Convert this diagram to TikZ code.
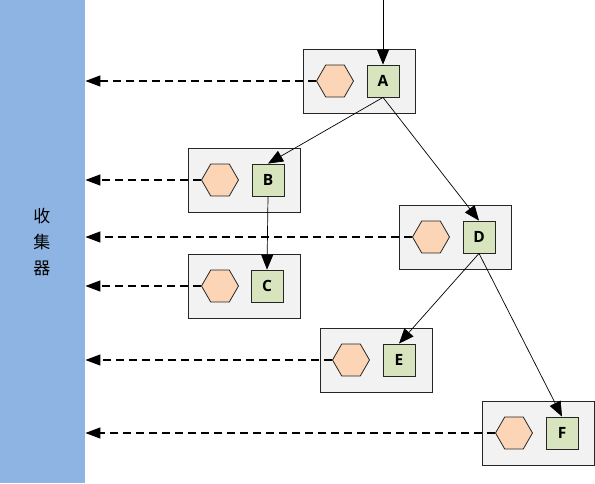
\documentclass[tikz,border=0pt]{standalone}
\usepackage{fontspec}
\setmainfont{Open Sans}
\newfontfamily\cjk{Noto Sans CJK SC}
\usetikzlibrary{shapes.geometric,arrows.meta}
\definecolor{collblue}{HTML}{8EB4E3}
\definecolor{boxgray}{HTML}{F2F2F2}
\definecolor{hexpeach}{HTML}{FBD5B5}
\definecolor{sqgreen}{HTML}{D7E4BD}
\tikzset{
  spanbox/.style={draw=black!85, fill=boxgray, line width=0.8pt, minimum width=112pt, minimum height=64pt, inner sep=0pt},
  hexnode/.style={regular polygon, regular polygon sides=6, draw=black!85, fill=hexpeach, line width=0.8pt, minimum size=37pt, inner sep=0pt},
  sqnode/.style={draw=black!85, fill=sqgreen, line width=0.8pt, minimum size=32pt, inner sep=0pt, font=\bfseries\fontsize{15.5}{15.5}\selectfont},
  callarrow/.style={line width=0.7pt, -{Triangle[length=15pt,width=12pt]}},
  reportarrow/.style={line width=1.2pt, dash pattern=on 8pt off 5pt, -{Triangle[length=15pt,width=11pt]}}
}
\begin{document}
\begin{tikzpicture}[x=1pt,y=-1pt]
\useasboundingbox (0,0) rectangle (595,483);
\node[fill=collblue, minimum width=85pt, minimum height=483pt, inner sep=0pt, anchor=north west] (coll) at (0,0) {};
\node[font=\cjk\fontsize{17}{26}\selectfont, align=center] (colltxt) at (42,242) {收\\集\\器};
% boxes
\node[spanbox] (bA) at (359.5,81) {};
\node[spanbox] (bB) at (244,180) {};
\node[spanbox] (bC) at (244,286) {};
\node[spanbox] (bD) at (455.5,237) {};
\node[spanbox] (bE) at (376,360) {};
\node[spanbox] (bF) at (538.5,433.5) {};
% hexagons
\node[hexnode] (hA) at (335,81) {};
\node[hexnode] (hB) at (220,180) {};
\node[hexnode] (hC) at (220,286) {};
\node[hexnode] (hD) at (431,237) {};
\node[hexnode] (hE) at (351,360) {};
\node[hexnode] (hF) at (514,433) {};
% squares
\node[sqnode] (A) at (383,81) {A};
\node[sqnode] (B) at (268,180) {B};
\node[sqnode] (C) at (267,286) {C};
\node[sqnode] (D) at (479,237) {D};
\node[sqnode] (E) at (399,360) {E};
\node[sqnode] (F) at (562,433) {F};
% incoming
\coordinate (top) at (383,0);
\draw[callarrow] (top) -- (A.north);
\draw[callarrow] (A.south) -- (B.north);
\draw[callarrow] (A.south) -- (D.north);
\draw[callarrow] (B.south) -- (C.north);
\draw[callarrow] (D.south) -- (E.north);
\draw[callarrow] (D.south) -- (F.north);
% reports
\foreach \h in {hA,hB,hC,hD,hE,hF}{
  \draw[reportarrow] (\h.west) -- (\h.west -| coll.east);
}
\end{tikzpicture}
\end{document}
